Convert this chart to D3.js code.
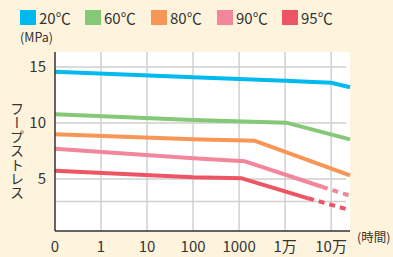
<!DOCTYPE html>
<html><head><meta charset="utf-8">
<script src="https://cdn.jsdelivr.net/npm/d3@7"></script>
<style>
  html, body { margin: 0; padding: 0; background: #fef3dc; }
  svg { display: block; font-family: "Noto Sans CJK JP", "Noto Sans", sans-serif; }
</style></head>
<body><svg id="chart" width="393" height="257"></svg>
<script>
// x positions are slots on the log-time axis: 0 -> "0", 1 -> "1", ... 6 -> "10万"
var xTicks = ["0", "1", "10", "100", "1000", "1万", "10万"];
var yTicks = [5, 10, 15];
var yGridExtra = [3];
var series = ["20℃", "60℃", "80℃", "90℃", "95℃"];
var colors = ["#00b9ef", "#84c878", "#f79656", "#f4869c", "#ee5564"];
// [slot, MPa] solid parts
var solid = [
  [[0, 14.58], [3, 14.08], [4, 13.93], [5, 13.78], [6, 13.6], [6.41, 13.19]],
  [[0, 10.78], [3, 10.27], [5.02, 10.03], [6.41, 8.54]],
  [[0, 8.99], [3, 8.54], [4.33, 8.42], [6.41, 5.33]],
  [[0, 7.71], [3, 6.85], [4.13, 6.58], [5.8, 4.31]],
  [[0, 5.74], [3, 5.15], [4.06, 5.06], [5.5, 3.28]]
];
// extrapolated (dashed) parts
var dashed = [[], [], [],
  [[5.8, 4.31], [6.41, 3.51]],
  [[5.5, 3.28], [6.41, 2.23]]
];

var svg = d3.select("#chart");
var L = 55, R = 350, T = 52, B = 231;
var x = d3.scaleLinear().domain([0, 6.41]).range([L, R]);
var y = d3.scaleLinear().domain([0.36, 16.34]).range([B, T]);

svg.append("rect").attr("x", L).attr("y", T).attr("width", R - L).attr("height", B - T).attr("fill", "#fff");

var grid = svg.append("g").attr("stroke", "#cfcfcf").attr("stroke-width", 1.5);
grid.selectAll("line.v").data(d3.range(1, 7)).enter().append("line")
  .attr("x1", function (d) { return x(d); }).attr("x2", function (d) { return x(d); })
  .attr("y1", T).attr("y2", B);
grid.selectAll("line.h").data(yTicks.concat(yGridExtra)).enter().append("line")
  .attr("x1", L).attr("x2", R - 4)
  .attr("y1", function (d) { return y(d); }).attr("y2", function (d) { return y(d); });

var line = d3.line().x(function (d) { return x(d[0]); }).y(function (d) { return y(d[1]); });
var g = svg.append("g").attr("fill", "none").attr("stroke-width", 4).attr("stroke-linejoin", "round");
solid.forEach(function (s, i) {
  g.append("path").attr("d", line(s)).attr("stroke", colors[i]);
  if (dashed[i].length) g.append("path").attr("d", line(dashed[i])).attr("stroke", colors[i]).attr("stroke-dasharray", "6,5");
});

// axes
svg.append("line").attr("x1", L).attr("x2", L).attr("y1", T).attr("y2", B).attr("stroke", "#333").attr("stroke-width", 1.5);
svg.append("line").attr("x1", L).attr("x2", R).attr("y1", B).attr("y2", B).attr("stroke", "#333").attr("stroke-width", 1.5);

svg.selectAll("text.yt").data(yTicks).enter().append("text")
  .attr("x", 46).attr("y", function (d) { return y(d) + 5; }).attr("text-anchor", "end")
  .attr("font-size", 15).attr("fill", "#333").text(function (d) { return d; });
svg.selectAll("text.xt").data(xTicks).enter().append("text")
  .attr("x", function (d, i) { return x(i); }).attr("y", 252).attr("text-anchor", "middle")
  .attr("font-size", 15).attr("fill", "#333").text(function (d) { return d; });

svg.append("text").attr("x", 357).attr("y", 242).attr("font-size", 12.5).attr("fill", "#333").text("(時間)");
svg.append("text").attr("x", 20).attr("y", 42).attr("font-size", 12.5).attr("fill", "#333").text("(MPa)");
svg.append("text").attr("x", 17).attr("y", 102).attr("font-size", 14).attr("fill", "#333")
  .style("writing-mode", "vertical-rl").text("フープストレス");

// legend
var lx = [20, 85, 151, 217, 282];
var lg = svg.selectAll("g.lg").data(series).enter().append("g")
  .attr("transform", function (d, i) { return "translate(" + lx[i] + ",10)"; });
lg.append("rect").attr("width", 16).attr("height", 15).attr("fill", function (d, i) { return colors[i]; });
lg.append("text").attr("x", 19).attr("y", 14).attr("font-size", 15).attr("fill", "#333").text(function (d) { return d; });
</script></body></html>
